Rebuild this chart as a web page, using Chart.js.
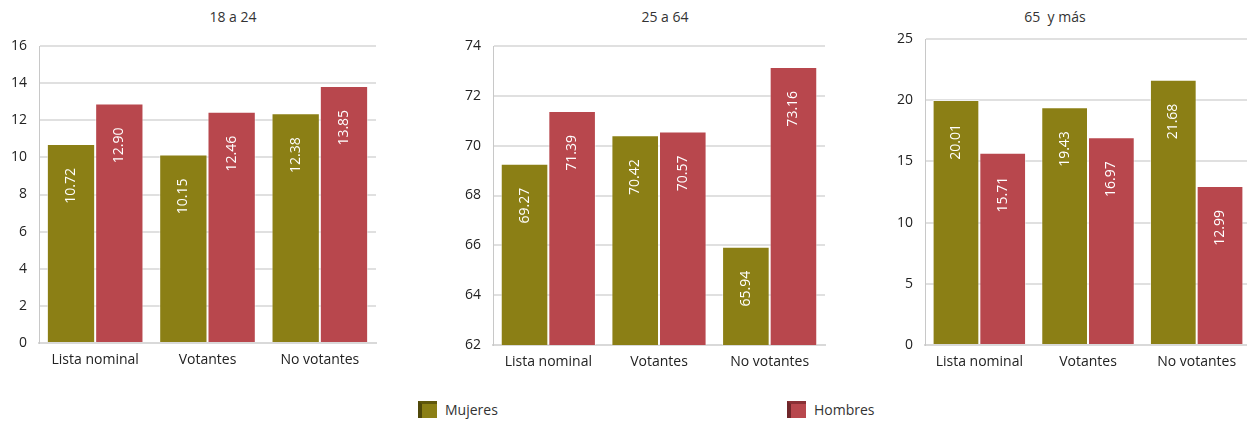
<!DOCTYPE html>
<html lang="es">
<head>
<meta charset="UTF-8">
<title>Lista nominal, votantes y no votantes por edad</title>
<script src="https://cdn.jsdelivr.net/npm/chart.js"></script>
<style>
    body { margin: 0; background: #fff; overflow: hidden; width: 1247px; height: 422px; position: relative; font-family: "Open Sans", sans-serif; color: #333; }
    canvas { position: absolute; top: 0; }
    .ttl { position: absolute; top: 7px; font-size: 14px; transform: translateX(-50%); white-space: pre; }
    .leg { position: absolute; top: 400px; font-size: 14px; display: flex; align-items: center; }
    .cube { display: inline-block; width: 15px; height: 14px; margin-right: 8px; border-left: 4px solid; border-top: 3px solid; box-sizing: content-box; }
</style>
</head>
<body>
<div class="ttl" style="left:233px">18 a 24</div>
<div class="ttl" style="left:665px">25 a 64</div>
<div class="ttl" style="left:1055px">65  y más</div>
<canvas id="c1" width="390" height="373" style="left:0px"></canvas>
<canvas id="c2" width="380" height="375" style="left:450px"></canvas>
<canvas id="c3" width="380" height="375" style="left:880px"></canvas>
<div class="leg" style="left:418px"><span class="cube" style="background:#8b7f15;border-color:#5f570c #4f480a"></span>Mujeres</div>
<div class="leg" style="left:787px"><span class="cube" style="background:#b8474d;border-color:#8a3035 #6f262a"></span>Hombres</div>
<script>
const categories = ['Lista nominal', 'Votantes', 'No votantes'];

const mujeres18 = [10.72, 10.15, 12.38];
const hombres18 = [12.90, 12.46, 13.85];
const mujeres25 = [69.27, 70.42, 65.94];
const hombres25 = [71.39, 70.57, 73.16];
const mujeres65 = [20.01, 19.43, 21.68];
const hombres65 = [15.71, 16.97, 12.99];

const yMin = [0, 62, 0];
const yMax = [16, 74, 25];
const yStep = [2, 2, 5];

const olive = '#8b7f15';
const red = '#b8474d';

// white rotated value labels, near the top of each bar
const barLabels = {
    id: 'barLabels',
    afterDatasetsDraw(chart) {
        const ctx = chart.ctx;
        ctx.save();
        ctx.fillStyle = '#fff';
        ctx.font = '14px "Open Sans"';
        ctx.textAlign = 'right';
        ctx.textBaseline = 'middle';
        chart.data.datasets.forEach((ds, i) => {
            chart.getDatasetMeta(i).data.forEach((bar, j) => {
                ctx.save();
                ctx.translate(bar.x, bar.y + 24);
                ctx.rotate(-Math.PI / 2);
                ctx.fillText(ds.data[j].toFixed(2), 0, 0);
                ctx.restore();
            });
        });
        ctx.restore();
    }
};

function makeChart(id, m, h, k, axisW, pad) {
    new Chart(document.getElementById(id), {
        type: 'bar',
        data: {
            labels: categories,
            datasets: [
                { label: 'Mujeres', data: m, backgroundColor: olive, borderColor: 'rgba(255,255,255,0.55)', borderWidth: 1 },
                { label: 'Hombres', data: h, backgroundColor: red, borderColor: 'rgba(255,255,255,0.55)', borderWidth: 1 }
            ]
        },
        options: {
            responsive: false,
            animation: false,
            categoryPercentage: 0.86,
            barPercentage: 1,
            layout: { padding: pad },
            plugins: { legend: { display: false }, tooltip: { enabled: false } },
            scales: {
                x: {
                    grid: { display: false, drawTicks: false },
                    border: { color: '#d9d9d9', width: 2 },
                    ticks: { color: '#222', font: { family: 'Open Sans', size: 14 }, padding: 9 },
                    afterFit: s => { s.height = 30; }
                },
                y: {
                    min: yMin[k], max: yMax[k],
                    grid: { color: '#e0e0e0', lineWidth: 2, drawTicks: false },
                    border: { color: '#c8c8c8', width: 1 },
                    ticks: { stepSize: yStep[k], color: '#222', font: { family: 'Open Sans', size: 14 }, padding: 12 },
                    afterFit: s => { s.width = axisW; }
                }
            }
        },
        plugins: [barLabels]
    });
}

makeChart('c1', mujeres18, hombres18, 0, 39, { top: 46, right: 14, left: 0, bottom: 0 });
makeChart('c2', mujeres25, hombres25, 1, 43, { top: 46, right: 5, left: 0, bottom: 0 });
makeChart('c3', mujeres65, hombres65, 2, 45, { top: 39, right: 9, left: 0, bottom: 0 });
</script>
</body>
</html>
